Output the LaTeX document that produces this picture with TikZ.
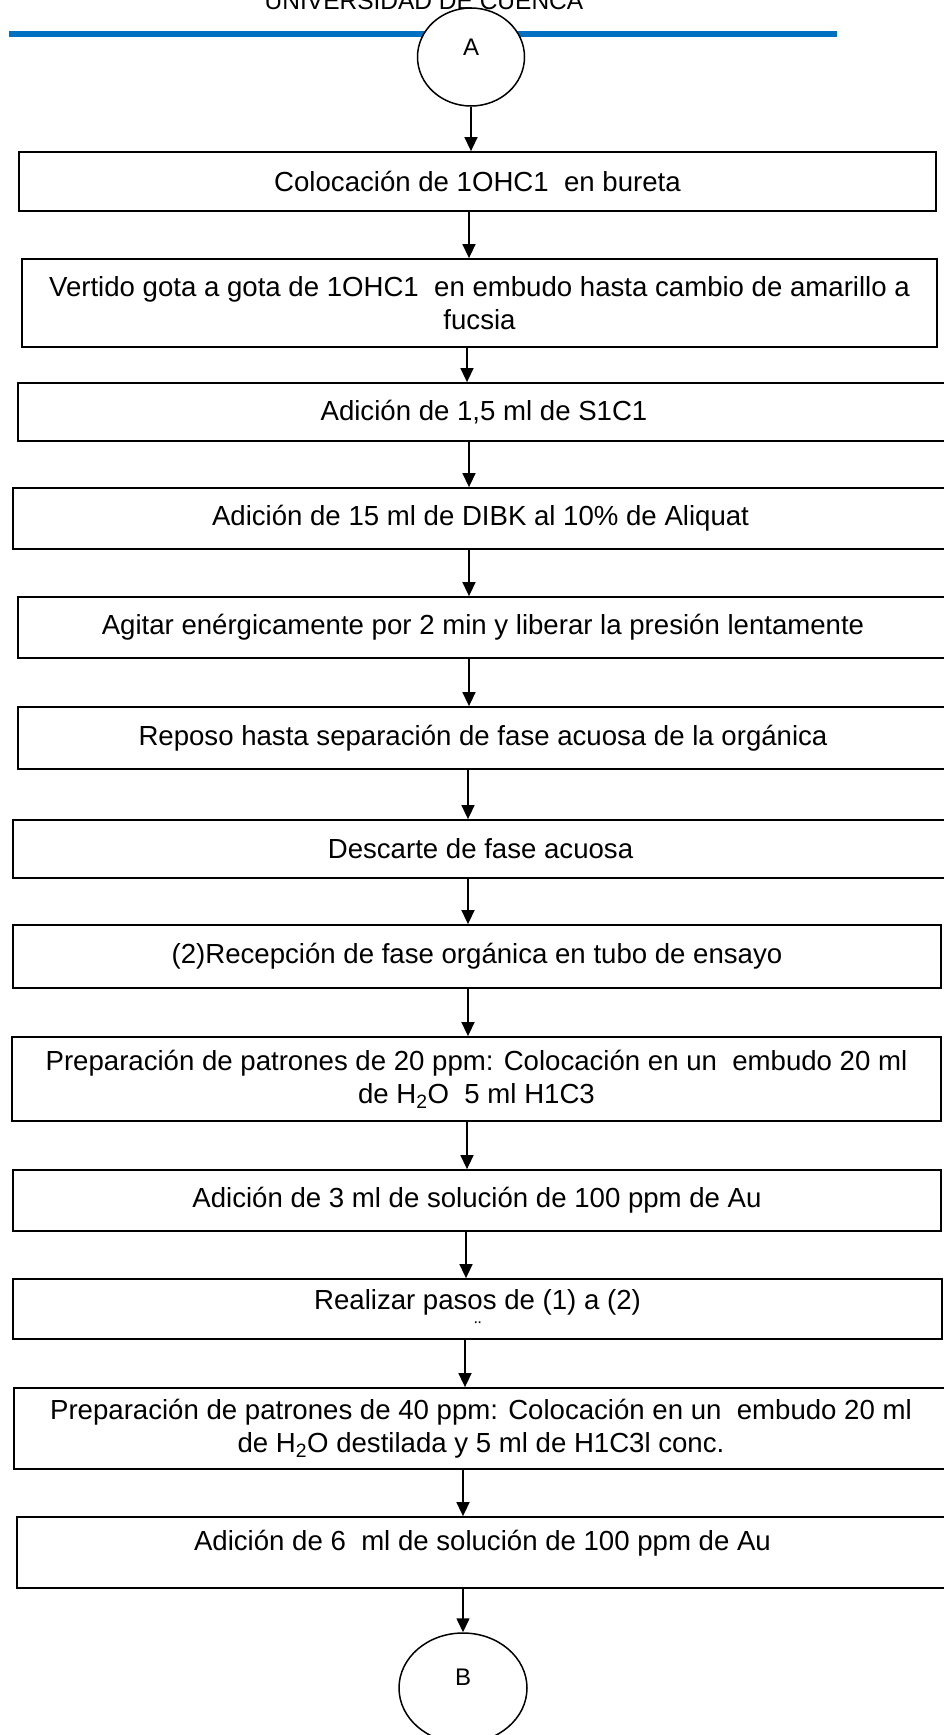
\documentclass[tikz,border=0pt]{standalone}
\usepackage{fontspec}
\setmainfont{Liberation Sans}
\usetikzlibrary{arrows.meta,shapes.geometric}
\definecolor{headblue}{RGB}{0,112,192}
\begin{document}
\begin{tikzpicture}[x=1pt,y=-1pt,
  stepbox/.style={draw=black, line width=1.8pt, rectangle, inner sep=0pt,
    align=center, font=\fontsize{27.6}{33}\selectfont},
  connector/.style={draw=black, line width=1.5pt, ellipse, fill=white, inner sep=0pt},
  lettertext/.style={font=\fontsize{24}{28}\selectfont, inner sep=0pt},
  flow/.style={line width=1.5pt, -{Triangle[length=14pt,width=13pt]}}]
\useasboundingbox (0,0) rectangle (943,1735);

% page header
\node[anchor=base, font=\fontsize{24.5}{28}\selectfont, inner sep=0pt] (head) at (424,9) {UNIVERSIDAD DE CUENCA};
\draw[headblue, line width=6pt] (9,34) -- (837,34);

% start connector
\node[connector, minimum width=107pt, minimum height=98pt] (A) at (471,57) {};
\node[lettertext] (Atxt) at (471,47) {A};

% process steps
\node[stepbox, minimum width=917pt, minimum height=59pt] (b1) at (477.5,181.5)
  {Colocación de 1OHC1\ \ en bureta};
\node[stepbox, minimum width=915pt, minimum height=88pt] (b2) at (479.5,303)
  {Vertido gota a gota de 1OHC1\ \ en embudo hasta cambio de amarillo a\\ fucsia};
\node[stepbox, minimum width=932pt, minimum height=58pt] (b3) at (484,412)
  {Adición de 1,5 ml de S1C1};
\node[stepbox, minimum width=935pt, minimum height=61pt] (b4) at (480.5,518.5)
  {Adición de 15 ml de DIBK al 10\% de Aliquat};
\node[stepbox, minimum width=930pt, minimum height=61pt] (b5) at (483,627.5)
  {Agitar enérgicamente por 2 min y liberar la presión lentamente};
\node[stepbox, minimum width=930pt, minimum height=62pt] (b6) at (483,738)
  {Reposo hasta separación de fase acuosa de la orgánica};
\node[stepbox, minimum width=935pt, minimum height=58pt] (b7) at (480.5,849)
  {Descarte de fase acuosa};
\node[stepbox, minimum width=928pt, minimum height=63pt] (b8) at (477,956.5)
  {(2)Recepción de fase orgánica en tubo de ensayo};
\node[stepbox, minimum width=929pt, minimum height=84pt] (b9) at (476.5,1079)
  {Preparación de patrones de 20 ppm: Colocación en un\ \ embudo 20 ml\\ de H\textsubscript{2}O\ \ 5 ml H1C3};
\node[stepbox, minimum width=928pt, minimum height=61pt] (b10) at (477,1200.5)
  {Adición de 3 ml de solución de 100 ppm de Au};
\node[stepbox, minimum width=929pt, minimum height=60pt] (b11) at (477.5,1309)
  {\raisebox{7pt}[\height][\depth]{Realizar pasos de (1) a (2)}};
\node[font=\fontsize{20}{22}\selectfont, inner sep=0pt] (b11mark) at (478,1329) {¨};
\node[stepbox, minimum width=934pt, minimum height=81pt] (b12) at (481,1428.5)
  {Preparación de patrones de 40 ppm: Colocación en un\ \ embudo 20 ml\\ de H\textsubscript{2}O destilada y 5 ml de H1C3l conc.};
\node[stepbox, minimum width=931pt, minimum height=71pt] (b13) at (482.5,1552.5)
  {\raisebox{9pt}[\height][\depth]{Adición de 6\ \ ml de solución de 100 ppm de Au}};

% end connector
\node[connector, minimum width=128pt, minimum height=110pt] (B) at (463,1688) {};
\node[lettertext] (Btxt) at (463,1677) {B};

% flow arrows
\draw[flow] (A.south) -- (b1.north -| A.south);
\draw[flow] (b1.south -| 469,0) -- (b2.north -| 469,0);
\draw[flow] (b2.south -| 467,0) -- (b3.north -| 467,0);
\draw[flow] (b3.south -| 469,0) -- (b4.north -| 469,0);
\draw[flow] (b4.south -| 469,0) -- (b5.north -| 469,0);
\draw[flow] (b5.south -| 469,0) -- (b6.north -| 469,0);
\draw[flow] (b6.south -| 468,0) -- (b7.north -| 468,0);
\draw[flow] (b7.south -| 468,0) -- (b8.north -| 468,0);
\draw[flow] (b8.south -| 468,0) -- (b9.north -| 468,0);
\draw[flow] (b9.south -| 467,0) -- (b10.north -| 467,0);
\draw[flow] (b10.south -| 466,0) -- (b11.north -| 466,0);
\draw[flow] (b11.south -| 465,0) -- (b12.north -| 465,0);
\draw[flow] (b12.south -| 463,0) -- (b13.north -| 463,0);
\draw[flow] (b13.south -| B.north) -- (B.north);
\end{tikzpicture}
\end{document}
